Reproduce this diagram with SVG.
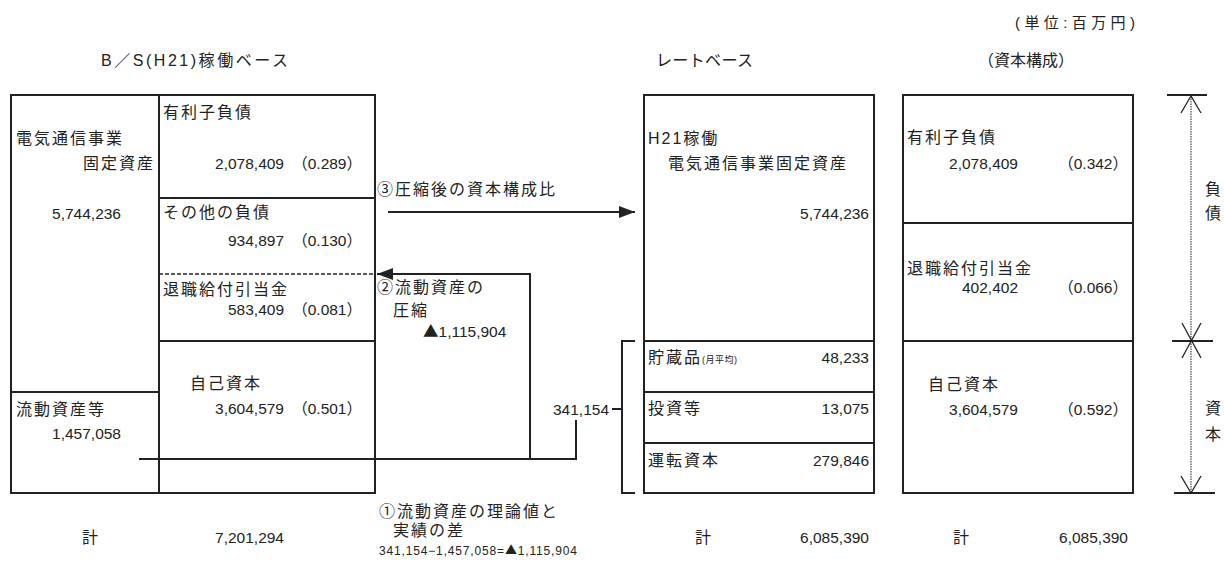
<svg xmlns="http://www.w3.org/2000/svg" width="1224" height="570" viewBox="0 0 1224 570">
<style>
text{font-family:"Liberation Sans","Noto Sans CJK JP",sans-serif;fill:#222;}
.j{font-size:16px;letter-spacing:2px;}
.n{font-size:15.5px;}
.h{font-size:16px;}
.tri{font-family:"Noto Sans CJK JP",sans-serif;}
.box{fill:#fff;stroke:#222;stroke-width:2;}
.ln{stroke:#222;stroke-width:2;fill:none;}
.dash{stroke:#222;stroke-width:1.6;stroke-dasharray:4,2;fill:none;}
.thin{stroke:#222;stroke-width:1.3;fill:none;}
.dot{stroke:#444;stroke-width:1.2;stroke-dasharray:1.5,1;fill:none;}
</style>
<defs>
<marker id="ah" viewBox="0 0 16 12" refX="16" refY="6" markerWidth="16" markerHeight="12" markerUnits="userSpaceOnUse" orient="auto">
<path d="M0,0 L16,6 L0,12 z" fill="#222"/>
</marker>
</defs>
<rect width="1224" height="570" fill="#fff"/>

<g id="headers">
<text x="1015" y="28" font-size="15" textLength="120" lengthAdjust="spacing">(単位:百万円)</text>
<text class="h" x="101" y="66" textLength="187" lengthAdjust="spacing">B／S(H21)稼働ベース</text>
<text class="h" x="656" y="66" textLength="97" lengthAdjust="spacing">レートベース</text>
<text class="h" x="978" y="66">（資本構成）</text>
</g>

<g id="bs">
<rect class="box" x="11" y="95" width="364" height="398"/>
<line class="ln" x1="159" y1="95" x2="159" y2="493"/>
<line class="ln" x1="159" y1="198" x2="375" y2="198"/>
<line class="ln" x1="159" y1="341" x2="375" y2="341"/>
<line class="ln" x1="11" y1="392" x2="159" y2="392"/>
<line class="dash" x1="159" y1="274" x2="375" y2="274"/>
<text class="j" x="16" y="144">電気通信事業</text>
<text class="j" x="155" y="169" text-anchor="end">固定資産</text>
<text class="n" x="121" y="219" text-anchor="end">5,744,236</text>
<text class="j" x="163" y="118">有利子負債</text>
<text class="n" x="284" y="169" text-anchor="end">2,078,409</text>
<text class="n" x="362" y="169" text-anchor="end">（0.289）</text>
<text class="j" x="163" y="218">その他の負債</text>
<text class="n" x="284" y="246" text-anchor="end">934,897</text>
<text class="n" x="362" y="246" text-anchor="end">（0.130）</text>
<text class="j" x="163" y="295">退職給付引当金</text>
<text class="n" x="284" y="315" text-anchor="end">583,409</text>
<text class="n" x="362" y="315" text-anchor="end">（0.081）</text>
<text class="j" x="190" y="389">自己資本</text>
<text class="n" x="284" y="414" text-anchor="end">3,604,579</text>
<text class="n" x="362" y="414" text-anchor="end">（0.501）</text>
<text class="j" x="16" y="415">流動資産等</text>
<text class="n" x="121" y="439" text-anchor="end">1,457,058</text>
</g>

<g id="ratebase">
<rect class="box" x="644" y="95" width="230" height="398"/>
<line class="ln" x1="644" y1="341" x2="874" y2="341"/>
<line class="ln" x1="644" y1="392" x2="874" y2="392"/>
<line class="ln" x1="644" y1="443" x2="874" y2="443"/>
<text class="j" x="648" y="144" letter-spacing="1">H21稼働</text>
<text class="j" x="668" y="169">電気通信事業固定資産</text>
<text class="n" x="869" y="219" text-anchor="end">5,744,236</text>
<text class="j" x="648" y="363">貯蔵品<tspan font-size="9" letter-spacing="0.5">(月平均)</tspan></text>
<text class="n" x="869" y="363" text-anchor="end">48,233</text>
<text class="j" x="648" y="414">投資等</text>
<text class="n" x="869" y="414" text-anchor="end">13,075</text>
<text class="j" x="648" y="466">運転資本</text>
<text class="n" x="869" y="466" text-anchor="end">279,846</text>
</g>

<g id="capital">
<rect class="box" x="903" y="95" width="230" height="398"/>
<line class="ln" x1="903" y1="223" x2="1133" y2="223"/>
<line class="ln" x1="903" y1="341" x2="1133" y2="341"/>
<text class="j" x="907" y="143">有利子負債</text>
<text class="n" x="1018" y="169" text-anchor="end">2,078,409</text>
<text class="n" x="1128" y="169" text-anchor="end">（0.342）</text>
<text class="j" x="907" y="274">退職給付引当金</text>
<text class="n" x="1018" y="293" text-anchor="end">402,402</text>
<text class="n" x="1128" y="293" text-anchor="end">（0.066）</text>
<text class="j" x="928" y="390">自己資本</text>
<text class="n" x="1018" y="415" text-anchor="end">3,604,579</text>
<text class="n" x="1128" y="415" text-anchor="end">（0.592）</text>
</g>

<g id="side-labels">
<text class="j" x="1205" y="195">負</text>
<text class="j" x="1205" y="219">債</text>
<text class="j" x="1205" y="414">資</text>
<text class="j" x="1205" y="440">本</text>
</g>

<g id="annotations">
<text class="j" x="377" y="195" letter-spacing="1">③圧縮後の資本構成比</text>
<text class="j" x="377" y="293" letter-spacing="1">②流動資産の</text>
<text class="j" x="393" y="316" letter-spacing="1">圧縮</text>
<text class="n" x="423" y="337"><tspan class="tri">▲</tspan>1,115,904</text>
<text class="n" x="609" y="415" text-anchor="end">341,154</text>
<text class="j" x="379" y="517" letter-spacing="1">①流動資産の理論値と</text>
<text class="j" x="393" y="536" letter-spacing="1">実績の差</text>
<text x="379" y="555" font-size="12" textLength="198" lengthAdjust="spacing">341,154−1,457,058=<tspan class="tri">▲</tspan>1,115,904</text>
</g>

<g id="totals">
<text class="j" x="82" y="543">計</text>
<text class="n" x="284" y="543" text-anchor="end">7,201,294</text>
<text class="j" x="695" y="543">計</text>
<text class="n" x="869" y="543" text-anchor="end">6,085,390</text>
<text class="j" x="953" y="543">計</text>
<text class="n" x="1128" y="543" text-anchor="end">6,085,390</text>
</g>

<g id="connectors">
<line class="ln" x1="388" y1="212" x2="635" y2="212" marker-end="url(#ah)"/>
<polyline class="ln" points="530,459 530,274 377,274" marker-end="url(#ah)"/>
<polyline class="ln" points="139,459 576,459 576,420"/>
<polyline class="ln" points="635,341 622,341 622,493 635,493"/>
<line class="ln" x1="612" y1="409" x2="622" y2="409"/>
<line class="ln" x1="1167" y1="95" x2="1207" y2="95"/>
<line class="ln" x1="1172" y1="341" x2="1213" y2="341"/>
<line class="ln" x1="1174" y1="493" x2="1215" y2="493"/>
<line class="dot" x1="1191" y1="96" x2="1191" y2="492"/>
<polyline class="thin" points="1181,113 1191,96 1201,113"/>
<polyline class="thin" points="1182,323 1201,358"/>
<polyline class="thin" points="1201,323 1182,358"/>
<polyline class="thin" points="1181,476 1191,493 1201,476"/>
</g>
</svg>
